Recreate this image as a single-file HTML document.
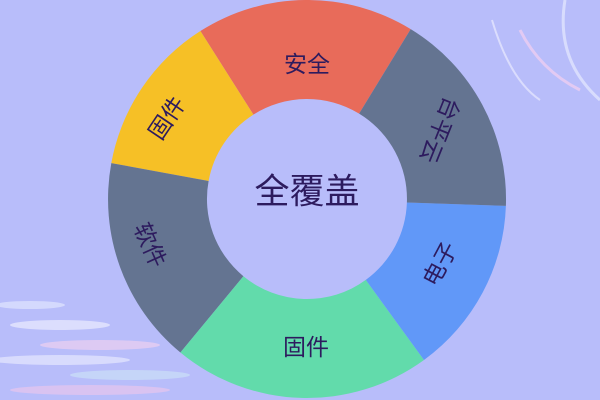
<!DOCTYPE html>
<html><head><meta charset="utf-8"><style>
html,body{margin:0;padding:0;width:600px;height:400px;overflow:hidden;background:#b8bdfa}
text{font-family:"Liberation Sans","Noto Sans CJK SC",sans-serif;fill:#2d1b5e}
</style></head><body>
<svg width="600" height="400" viewBox="0 0 600 400" xmlns="http://www.w3.org/2000/svg">
<rect width="600" height="400" fill="#b8bdfa"/>
<g opacity="0.6">
<ellipse cx="30" cy="305" rx="35" ry="4" fill="#e8ecff"/>
<ellipse cx="60" cy="325" rx="50" ry="5" fill="#f4f5ff"/>
<ellipse cx="100" cy="345" rx="60" ry="5" fill="#f7d3f0"/>
<ellipse cx="60" cy="360" rx="70" ry="5" fill="#eef0ff"/>
<ellipse cx="130" cy="375" rx="60" ry="5" fill="#cfe6f7"/>
<ellipse cx="90" cy="390" rx="80" ry="5" fill="#f0c7ec"/>
<path d="M492 20 Q510 80 540 100" stroke="#f2f2ff" stroke-width="2" fill="none"/>
<path d="M520 30 Q540 70 580 90" stroke="#ffd3ef" stroke-width="3" fill="none"/>
<path d="M565 0 Q555 60 600 100" stroke="#eef2ff" stroke-width="3" fill="none"/>
</g>
<path d="M410.7,29.1 A199,199 0 0 0 200.4,31.0 L253.4,114.6 A100,100 0 0 1 359.1,113.6 Z" fill="#e86b5a"/>
<path d="M200.4,31.0 A199,199 0 0 0 111.3,163.1 L208.6,181.0 A100,100 0 0 1 253.4,114.6 Z" fill="#f6c026"/>
<path d="M111.3,163.1 A199,199 0 0 0 180.4,352.5 L243.4,276.2 A100,100 0 0 1 208.6,181.0 Z" fill="#647491"/>
<path d="M180.4,352.5 A199,199 0 0 0 424.0,360.0 L365.8,279.9 A100,100 0 0 1 243.4,276.2 Z" fill="#62dbab"/>
<path d="M424.0,360.0 A199,199 0 0 0 505.9,205.9 L406.9,202.5 A100,100 0 0 1 365.8,279.9 Z" fill="#6198f8"/>
<path d="M505.9,205.9 A199,199 0 0 0 410.7,29.1 L359.1,113.6 A100,100 0 0 1 406.9,202.5 Z" fill="#647491"/>
<g font-size="23" text-anchor="middle" dominant-baseline="central">
<text x="307" y="64">安全</text>
<text x="167" y="118" transform="rotate(-56 167 118)">固件</text>
<text x="150" y="245" transform="rotate(66 150 245)">软件</text>
<text x="306" y="347">固件</text>
<text x="440" y="264" transform="rotate(-62 440 264)">电子</text>
<text x="440" y="130" transform="rotate(112 440 130)">台平云</text>
</g>
<text x="307" y="192" font-size="35" text-anchor="middle" dominant-baseline="central">全覆盖</text>
</svg>
</body></html>
